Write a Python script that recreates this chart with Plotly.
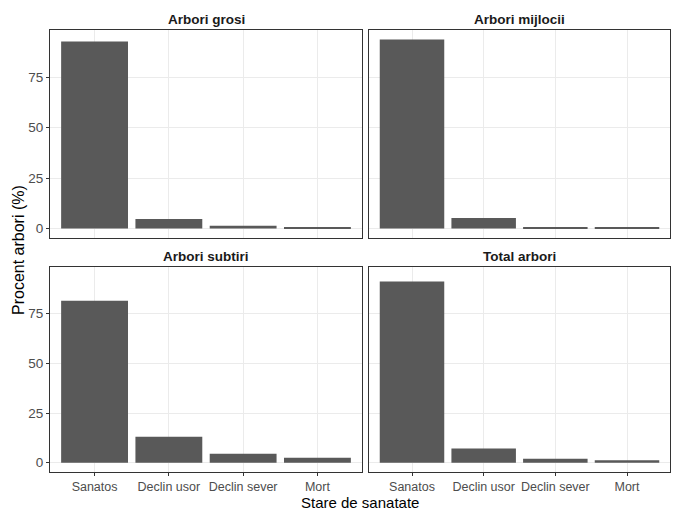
import plotly.graph_objects as go

# Health-state categories and percentage of trees per diameter class
categories = ["Sanatos", "Declin usor", "Declin sever", "Mort"]
panel_titles = ["Arbori grosi", "Arbori mijlocii", "Arbori subtiri", "Total arbori"]
arbori_grosi = [92.8, 4.7, 1.4, 0.3]
arbori_mijlocii = [93.8, 5.2, 0.3, 0.3]
arbori_subtiri = [81.5, 13.0, 4.5, 2.5]
total_arbori = [91.2, 7.2, 2.0, 1.2]
y_tick_values = [0, 25, 50, 75]

series = [arbori_grosi, arbori_mijlocii, arbori_subtiri, total_arbori]

W, H = 676, 512
# panel boxes in pixels: (left, right, top, bottom)
boxes = [
    (50, 362, 30, 238),
    (369, 670, 30, 238),
    (50, 362, 267, 472),
    (369, 670, 267, 472),
]

ymax = max(max(s) for s in series)
yrange = [-0.05 * ymax, 1.05 * ymax]
# discrete axis padded by 0.6 of a category on each side
xrange = [-0.6, len(categories) - 1 + 0.6]

fig = go.Figure()
BORDER = "#333333"
GRID = "#ebebeb"
TICKCOL = "#4d4d4d"
FONT = "Liberation Sans, Arial, sans-serif"

layout = dict(
    width=W, height=H,
    margin=dict(l=0, r=0, t=0, b=0, autoexpand=False),
    paper_bgcolor="white", plot_bgcolor="white",
    showlegend=False, bargap=0.1,
    font=dict(family=FONT, color=TICKCOL, size=13),
)
annotations = []

for i, (vals, title, box) in enumerate(zip(series, panel_titles, boxes)):
    n = "" if i == 0 else str(i + 1)
    left, right, top, bottom = box
    xd = [left / W, right / W]
    yd = [1 - bottom / H, 1 - top / H]
    fig.add_trace(go.Bar(
        x=categories, y=vals, xaxis="x" + n, yaxis="y" + n,
        marker=dict(color="#595959", line=dict(width=0)),
        hoverinfo="x+y",
    ))
    is_bottom = i >= 2
    is_left = i % 2 == 0
    layout["xaxis" + n] = dict(
        domain=xd, anchor="y" + n, type="category",
        categoryorder="array", categoryarray=categories, range=xrange,
        showgrid=True, gridcolor=GRID, gridwidth=1,
        showline=True, mirror=True, linecolor=BORDER, linewidth=1,
        ticks="outside" if is_bottom else "", ticklen=3, tickcolor=BORDER,
        showticklabels=is_bottom, tickfont=dict(size=12.5, color=TICKCOL),
        tickangle=0, automargin=False,
        fixedrange=True, zeroline=False,
    )
    layout["yaxis" + n] = dict(
        domain=yd, anchor="x" + n, range=yrange,
        tickvals=y_tick_values,
        showgrid=True, gridcolor=GRID, gridwidth=1,
        showline=True, mirror=True, linecolor=BORDER, linewidth=1,
        ticks="outside" if is_left else "", ticklen=3, tickcolor=BORDER,
        showticklabels=is_left, tickfont=dict(size=13.5, color=TICKCOL),
        automargin=False, zeroline=False, fixedrange=True,
    )
    annotations.append(dict(
        text="<b>" + title + "</b>", xref="paper", yref="paper",
        x=(xd[0] + xd[1]) / 2, y=yd[1], xanchor="center", yanchor="bottom",
        yshift=1, showarrow=False, font=dict(size=13.5, color="#1a1a1a", family=FONT),
    ))

annotations.append(dict(
    text="Stare de sanatate", xref="paper", yref="paper",
    x=(50 + 670) / 2 / W, y=0, xanchor="center", yanchor="bottom",
    borderpad=0, showarrow=False, font=dict(size=15, color="black", family=FONT),
))
annotations.append(dict(
    text="Procent arbori (%)", xref="paper", yref="paper",
    x=18 / W, y=1 - 250 / H, xanchor="center", yanchor="middle", textangle=-90,
    showarrow=False, font=dict(size=16, color="black", family=FONT),
))
layout["annotations"] = annotations
fig.update_layout(**layout)
fig.write_html("out.html")
